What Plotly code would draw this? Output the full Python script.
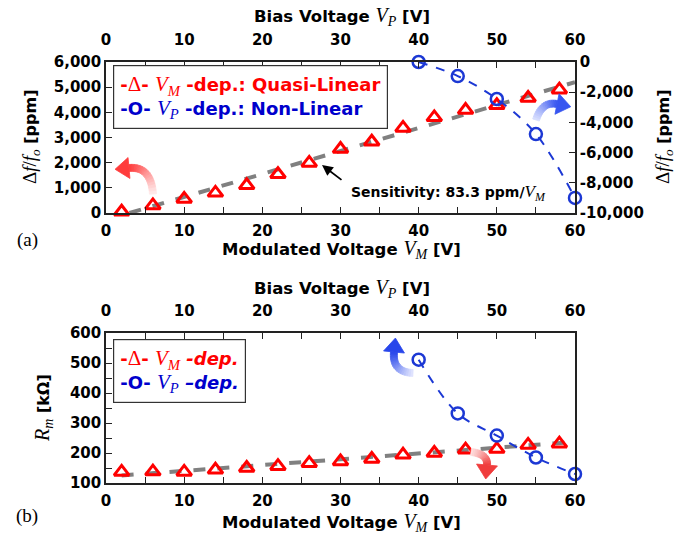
import plotly.graph_objects as go
import numpy as np

# ---------------- data ----------------
VM = [2, 6, 10, 14, 18, 22, 26, 30, 34, 38, 42, 46, 50, 54, 58]
df_VM = [50, 300, 560, 800, 1100, 1540, 1990, 2540, 2830, 3380, 3800, 4090, 4280, 4570, 4900]
VP = [40, 45, 50, 55, 60]
df_VP = [0, -930, -2450, -4770, -9000]
fitA_x = [3, 60]
fitA_y = [0, 5200]

Rm_VM = [137, 138, 137, 144, 150, 156, 166, 172, 180, 194, 200, 211, 213, 227, 231]
Rm_VP = [511, 332, 258, 185, 130]
fitB_x = [2, 60]
fitB_y = [125, 237]

x_ticks = [0, 10, 20, 30, 40, 50, 60]
yA_ticks = [0, 1000, 2000, 3000, 4000, 5000, 6000]
yA_text = ["0", "1,000", "2,000", "3,000", "4,000", "5,000", "6,000"]
yA2_ticks = [-10000, -8000, -6000, -4000, -2000, 0]
yA2_text = ["-10,000", "-8,000", "-6,000", "-4,000", "-2,000", "0"]
yB_ticks = [100, 200, 300, 400, 500, 600]

W, H = 684, 537
L, R, T, B = 106, 575, 62, 483

def PX(px):
    return (px - L) / (R - L)

def PY(py):
    return (B - py) / (B - T)

RED = "#ff0000"
BLUE = "#1c38d4"
GRAY = "#808080"
SANS = "DejaVu Sans"
SERIF = "Liberation Serif"

fig = go.Figure()

# ---- panel (a) ----
fig.add_trace(go.Scatter(x=fitA_x, y=fitA_y, mode="lines", xaxis="x", yaxis="y",
                         line=dict(color=GRAY, width=4, dash="dash"), showlegend=False))
fig.add_trace(go.Scatter(x=VM, y=df_VM, mode="markers", xaxis="x", yaxis="y", cliponaxis=False,
                         marker=dict(symbol="triangle-up-open", size=13, color=RED, line=dict(width=3, color=RED)),
                         showlegend=False))
fig.add_trace(go.Scatter(x=VP, y=df_VP, mode="lines+markers", xaxis="x2", yaxis="y2", cliponaxis=False,
                         line=dict(color=BLUE, width=2, dash="dash", shape="spline"),
                         marker=dict(symbol="circle-open", size=12, color=BLUE, line=dict(width=2.5, color=BLUE)),
                         showlegend=False))

# ---- panel (b) ----
fig.add_trace(go.Scatter(x=fitB_x, y=fitB_y, mode="lines", xaxis="x3", yaxis="y3",
                         line=dict(color=GRAY, width=4, dash="dash"), showlegend=False))
fig.add_trace(go.Scatter(x=VM, y=Rm_VM, mode="markers", xaxis="x3", yaxis="y3", cliponaxis=False,
                         marker=dict(symbol="triangle-up-open", size=13, color=RED, line=dict(width=3, color=RED)),
                         showlegend=False))
fig.add_trace(go.Scatter(x=VP, y=Rm_VP, mode="lines+markers", xaxis="x4", yaxis="y4", cliponaxis=False,
                         line=dict(color=BLUE, width=2, dash="dash", shape="spline"),
                         marker=dict(symbol="circle-open", size=12, color=BLUE, line=dict(width=2.5, color=BLUE)),
                         showlegend=False))

tickfont = dict(family=SANS, size=15, color="black", weight="bold")
common = dict(showline=True, linecolor="#222", linewidth=1.5, ticks="inside", ticklen=6, tickwidth=1.2,
              tickcolor="#222", showgrid=False, zeroline=False, tickfont=tickfont)
minor_x = dict(ticks="inside", ticklen=6, tickvals=[5, 15, 25, 35, 45, 55], tickcolor="#222")
xbottom = dict(common, range=[0, 60], tickvals=x_ticks, minor=minor_x, ticklabelstandoff=3)
xtop = dict(common, range=[0, 60], tickvals=x_ticks, minor=minor_x, ticklabelstandoff=9)

topA = 1.0
botA = PY(213)
topB = PY(333)
botB = 0.0

fig.update_layout(
    width=W, height=H,
    margin=dict(l=L, r=W - R, t=T, b=H - B),
    plot_bgcolor="white", paper_bgcolor="white",
    showlegend=False,
    xaxis=dict(xbottom, anchor="y", domain=[0, 1]),
    xaxis2=dict(xtop, anchor="y", overlaying="x", side="top"),
    yaxis=dict(common, domain=[botA, topA], anchor="x", range=[0, 6000], tickvals=yA_ticks, ticktext=yA_text),
    yaxis2=dict(common, domain=[botA, topA], anchor="x", overlaying="y", side="right",
                range=[-10000, 0], tickvals=yA2_ticks, ticktext=yA2_text),
    xaxis3=dict(xbottom, anchor="y3", domain=[0, 1]),
    xaxis4=dict(xtop, anchor="y3", overlaying="x3", side="top"),
    yaxis3=dict(common, domain=[botB, topB], anchor="x3", range=[100, 600], tickvals=yB_ticks, mirror=True,
                minor=dict(ticks="inside", ticklen=6, tickvals=[150, 250, 350, 450, 550], tickcolor="#222")),
    yaxis4=dict(domain=[botB, topB], anchor="x4", overlaying="y3", range=[100, 600], visible=False),
)

def serif(inner, size):
    return ("<span style=\"font-family:'Liberation Serif';font-weight:normal;font-size:%gpx\">%s</span>" % (size, inner))

def vsym(letter, size):
    return serif("<i>V<sub>%s</sub></i>" % letter, size)

def dff(size):
    return serif("Δ<i>f</i>/<i>f<sub>o</sub></i>", size)

ann = []

def add_text(text, px, py, size=15, angle=0, color="black", family=SANS, weight="bold", xanchor="center", yanchor="middle"):
    ann.append(dict(text=text, x=PX(px), y=PY(py), xref="paper", yref="paper", showarrow=False,
                    textangle=angle, xanchor=xanchor, yanchor=yanchor,
                    font=dict(family=family, size=size, color=color, weight=weight)))

TS = 16.5
add_text("Bias Voltage " + vsym("P", 20) + " [V]", 342, 16, size=TS)
add_text("Modulated Voltage " + vsym("M", 20) + " [V]", 341, 249, size=TS)
add_text(dff(19) + " [ppm]", 31, 137, angle=-90, size=16)
add_text(dff(19) + " [ppm]", 664, 137, angle=-90, size=16)
add_text("Bias Voltage " + vsym("P", 20) + " [V]", 342, 288, size=TS)
add_text("Modulated Voltage " + vsym("M", 20) + " [V]", 341, 522, size=TS)
add_text(serif("<i>R<sub>m</sub></i>", 20) + " [kΩ]", 43, 408, angle=-90, size=16)
add_text("(a)", 27, 240, size=19, family=SERIF, weight="normal")
add_text("(b)", 27, 516, size=19, family=SERIF, weight="normal")

# Legend boxes
LS = 18
legA = ("<span style='color:#ff0000'>-" + serif("Δ", 21) + "- "
        + vsym("M", 21) + " -dep.: Quasi-Linear</span><br>"
        + "<span style='color:#0000cc'>-O- " + vsym("P", 21) + " -dep.: Non-Linear</span>")
ann.append(dict(text=legA, x=PX(113), y=PY(65), xref="paper", yref="paper", showarrow=False,
                xanchor="left", yanchor="top", align="left", bordercolor="#333", borderwidth=1.2,
                borderpad=6, bgcolor="white",
                font=dict(family=SANS, size=LS, color="black", weight="bold")))
legB = ("<span style='color:#ff0000'>-" + serif("Δ", 21) + "- "
        + vsym("M", 21) + " <i>-dep.</i></span><br>"
        + "<span style='color:#0000cc'>-O- " + vsym("P", 21) + " <i>–dep.</i></span>")
ann.append(dict(text=legB, x=PX(113), y=PY(339), xref="paper", yref="paper", showarrow=False,
                xanchor="left", yanchor="top", align="left", bordercolor="#333", borderwidth=1.2,
                borderpad=6, bgcolor="white",
                font=dict(family=SANS, size=LS, color="black", weight="bold")))

# Sensitivity annotation
add_text("Sensitivity: 83.3 ppm/" + vsym("M", 17), 349, 193, size=14, xanchor="left")
ann.append(dict(text="", x=PX(322), y=PY(165), ax=21, ay=16, xref="paper", yref="paper",
                axref="pixel", ayref="pixel", showarrow=True, arrowhead=2, arrowsize=1.2, arrowwidth=1.8,
                arrowcolor="black"))

fig.update_layout(annotations=ann)

# Curved gradient arrows (decoration), drawn as a band of filled quads
shapes = []

def curved_arrow(p0, c, p1, col0, col1, width=7.0, head=14, n=16):
    t = np.linspace(0, 1, n + 1)
    pts = np.array([((1 - s) ** 2 * p0[0] + 2 * (1 - s) * s * c[0] + s ** 2 * p1[0],
                     (1 - s) ** 2 * p0[1] + 2 * (1 - s) * s * c[1] + s ** 2 * p1[1]) for s in t])
    der = np.array([(2 * (1 - s) * (c[0] - p0[0]) + 2 * s * (p1[0] - c[0]),
                     2 * (1 - s) * (c[1] - p0[1]) + 2 * s * (p1[1] - c[1])) for s in t])
    nrm = np.stack([-der[:, 1], der[:, 0]], axis=1)
    nrm = nrm / np.linalg.norm(nrm, axis=1, keepdims=True)
    hw = width / 2
    left = pts + nrm * hw
    right = pts - nrm * hw
    for i in range(n):
        f = (i + 0.5) / n
        colr = "rgb(%d,%d,%d)" % tuple(int(col0[k] + (col1[k] - col0[k]) * f) for k in range(3))
        quad = [left[i], left[i + 1], right[i + 1], right[i]]
        path = "M " + " L ".join("%f,%f" % (PX(q[0]), PY(q[1])) for q in quad) + " Z"
        shapes.append(dict(type="path", xref="paper", yref="paper", path=path,
                           fillcolor=colr, line=dict(color=colr, width=0.8)))
    dx, dy = p1[0] - c[0], p1[1] - c[1]
    ln = (dx ** 2 + dy ** 2) ** 0.5
    ux, uy = dx / ln, dy / ln
    tip = (p1[0] + ux * head, p1[1] + uy * head)
    b1 = (p1[0] - uy * head * 0.75, p1[1] + ux * head * 0.75)
    b2 = (p1[0] + uy * head * 0.75, p1[1] - ux * head * 0.75)
    path = "M %f,%f L %f,%f L %f,%f Z" % (PX(tip[0]), PY(tip[1]), PX(b1[0]), PY(b1[1]), PX(b2[0]), PY(b2[1]))
    colh = "rgb(%d,%d,%d)" % col1
    shapes.append(dict(type="path", xref="paper", yref="paper", path=path,
                       fillcolor=colh, line=dict(color=colh, width=0.8)))

curved_arrow((153, 194), (151, 166), (129, 168), (255, 238, 238), (255, 60, 60))
curved_arrow((536, 120), (542, 101), (557, 104), (220, 226, 255), (55, 85, 240))
curved_arrow((413, 373), (392, 372), (394, 352), (228, 232, 255), (40, 70, 235))
curved_arrow((471, 452), (488, 454), (487, 465), (255, 228, 228), (240, 60, 60))

fig.update_layout(shapes=shapes)

fig.write_html("out.html")
